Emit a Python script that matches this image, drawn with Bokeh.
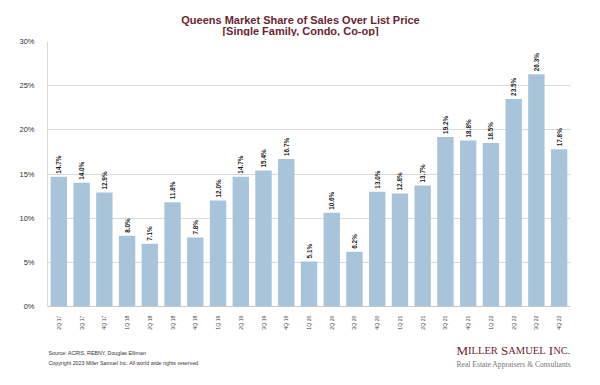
from math import pi
from bokeh.plotting import figure
from bokeh.layouts import column
from bokeh.models import ColumnDataSource, FactorRange, Range1d, Label, FixedTicker
from bokeh.core.properties import value
from bokeh.embed import file_html
from bokeh.resources import INLINE

quarters = ["2Q 17", "3Q 17", "4Q 17", "1Q 18", "2Q 18", "3Q 18", "4Q 18", "1Q 19",
            "2Q 19", "3Q 19", "4Q 19", "1Q 20", "2Q 20", "3Q 20", "4Q 20", "1Q 21",
            "2Q 21", "3Q 21", "4Q 21", "1Q 22", "2Q 22", "3Q 22", "4Q 22"]
share = [14.7, 14.0, 12.9, 8.0, 7.1, 11.8, 7.8, 12.0, 14.7, 15.4, 16.7, 5.1,
         10.6, 6.2, 13.0, 12.8, 13.7, 19.2, 18.8, 18.5, 23.5, 26.3, 17.8]
y_ticks = [0, 5, 10, 15, 20, 25, 30]

title1 = "Queens Market Share of Sales Over List Price"
title2 = "[Single Family, Condo, Co-op]"
source_txt = "Source: ACRIS, REBNY, Douglas Elliman"
copy_txt = "Copyright 2023 Miller Samuel Inc.  All world wide rights reserved."
tagline = "Real Estate Appraisers & Consultants"

W = 598
HEAD_H, MAIN_H, FOOT_H = 36, 300, 46
FL, FT, FR, FB = 47, 41, 570, 306   # frame edges in page pixels
MAROON = "#6b1f33"
BAR = "#a8c4db"


def blank(h):
    f = figure(width=W, height=h, output_backend="svg", toolbar_location=None,
               x_range=Range1d(0, W), y_range=Range1d(h, 0),
               x_axis_type=None, y_axis_type=None, frame_align=False,
               min_border_left=0, min_border_right=0, min_border_top=0, min_border_bottom=0,
               background_fill_color="white", border_fill_color="white",
               outline_line_color=None)
    f.grid.visible = False
    return f


head = blank(HEAD_H)
foot = blank(FOOT_H)


def lab(fig, top, text, X, Y, size, color, font="Liberation Sans", style="normal",
        align="left", baseline="middle"):
    fig.add_layout(Label(x=X, y=Y - top, text=text, text_font=font,
                         text_font_size=f"{size}px", text_font_style=style,
                         text_color=color, text_align=align, text_baseline=baseline))


src = ColumnDataSource(dict(q=quarters, v=share, lbl=[f"{v:.1f}%" for v in share]))

p = figure(width=W, height=MAIN_H, output_backend="svg", toolbar_location=None,
           x_range=FactorRange(factors=quarters), y_range=Range1d(0, 30),
           frame_align=False,
           min_border_left=FL, min_border_right=W - FR, min_border_top=FT - HEAD_H,
           min_border_bottom=HEAD_H + MAIN_H - FB,
           background_fill_color="white", border_fill_color="white", outline_line_color=None)

p.vbar(x="q", top="v", width=0.72, source=src, fill_color=BAR, line_color=None)
p.text(x="q", y="v", text="lbl", source=src, angle=pi / 2, text_align="left",
       text_baseline="middle", y_offset=-3, text_font=value("Liberation Sans"),
       text_font_style="bold", text_font_size="6.4px", text_color="#1a1a1a")

p.xgrid.grid_line_color = None
p.ygrid.grid_line_color = "#d9d9d9"
p.ygrid.ticker = FixedTicker(ticks=y_ticks)

p.yaxis.ticker = FixedTicker(ticks=y_ticks)
p.yaxis.major_label_overrides = {t: f"{t}%" for t in y_ticks}
p.yaxis.axis_line_color = "#d9d9d9"
p.yaxis.major_tick_line_color = None
p.yaxis.minor_tick_line_color = None
p.yaxis.major_label_standoff = 7
p.yaxis.major_label_text_font = "Liberation Sans"
p.yaxis.major_label_text_font_size = "7.5px"
p.yaxis.major_label_text_color = "#333333"

p.xaxis.axis_line_color = "#c8c8c8"
p.xaxis.major_tick_line_color = None
p.xaxis.major_label_orientation = pi / 2
p.xaxis.major_label_standoff = 3
p.xaxis.major_label_text_font = "Liberation Sans"
p.xaxis.major_label_text_font_size = "5.2px"
p.xaxis.major_label_text_color = "#444444"

lab(head, 0, title1, 300, 19, 11, MAROON, style="bold", align="center")
lab(head, 0, title2, 300, 30.5, 11, MAROON, style="bold", align="center")

FTOP = HEAD_H + MAIN_H
lab(foot, FTOP, source_txt, 48, 352, 5.3, "#333333")
lab(foot, FTOP, copy_txt, 48, 362, 5.3, "#333333")

# small-caps logo built from pieces
em = {"M": .889, "I": .333, "L": .611, "E": .611, "R": .667, "S": .556, "A": .722,
      "U": .722, "N": .722, "C": .667, ".": .25, " ": .25}
pieces = [("M", 13), ("ILLER", 10.5), (" ", 13), ("S", 13), ("AMUEL", 10.5), (" ", 13),
          ("I", 13), ("NC.", 10.5)]
x0 = 456
for txt, sz in pieces:
    if txt.strip():
        lab(foot, FTOP, txt, x0, 350, sz, MAROON, font="Liberation Serif",
            baseline="alphabetic")
    x0 += sum(em[c] for c in txt) * sz
lab(foot, FTOP, tagline, 456, 363.5, 7.6, "#777777", font="Liberation Serif",
    baseline="alphabetic")

layout = column(head, p, foot, spacing=0)
open("out.html", "w").write(file_html(layout, INLINE))
